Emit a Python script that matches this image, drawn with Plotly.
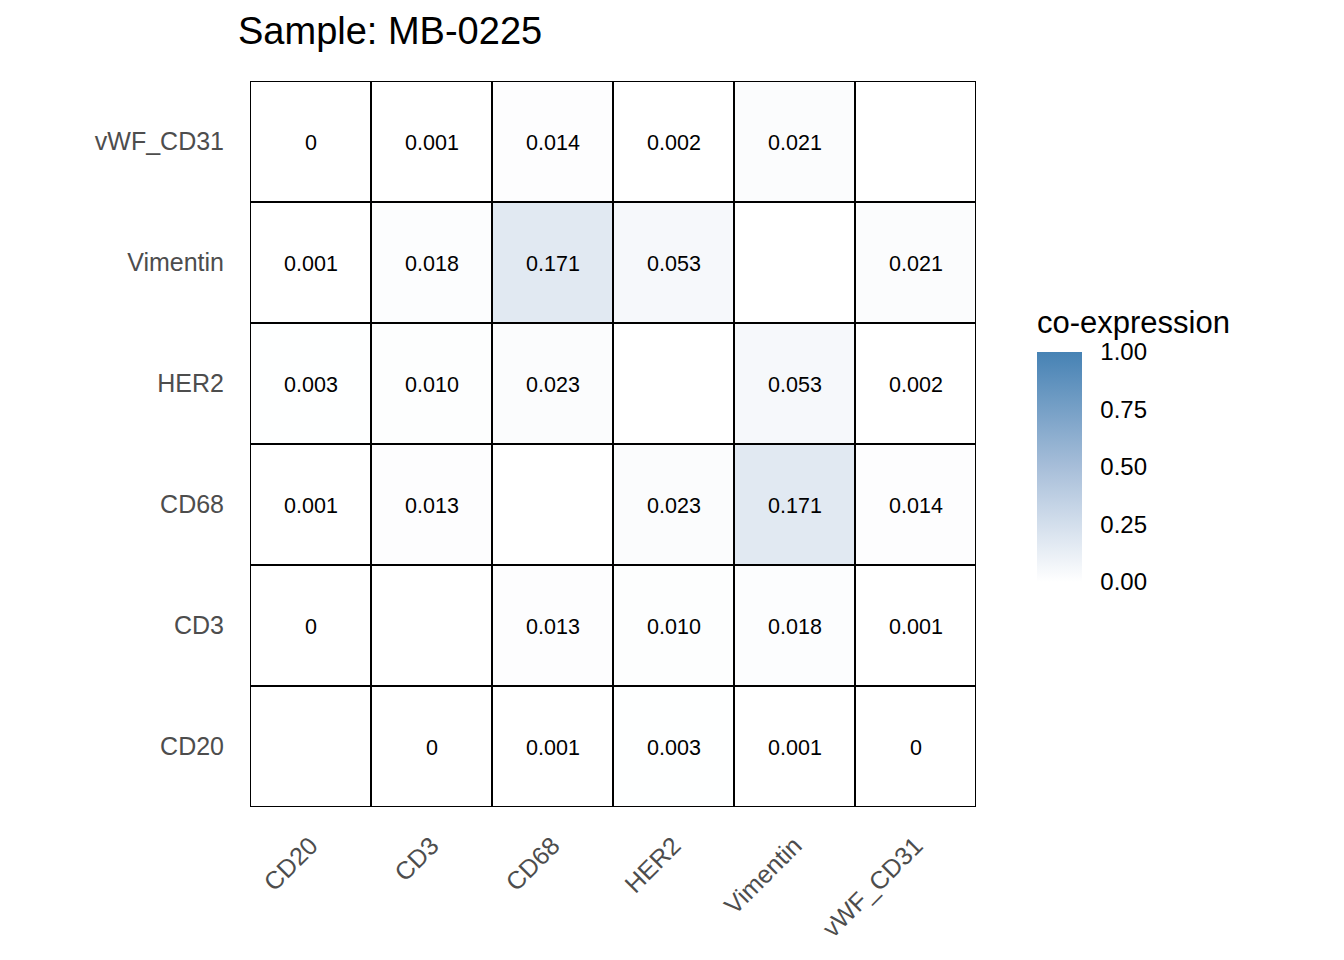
import plotly.graph_objects as go

markers = ["CD20", "CD3", "CD68", "HER2", "Vimentin", "vWF_CD31"]
# co-expression values, rows = y marker (bottom to top), cols = x marker
coexp = [
    [None, 0.000, 0.001, 0.003, 0.001, 0.000],
    [0.000, None, 0.013, 0.010, 0.018, 0.001],
    [0.001, 0.013, None, 0.023, 0.171, 0.014],
    [0.003, 0.010, 0.023, None, 0.053, 0.002],
    [0.001, 0.018, 0.171, 0.053, None, 0.021],
    [0.000, 0.001, 0.014, 0.002, 0.021, None],
]
title_text = "Sample: MB-0225"
legend_title = "co-expression"
cbar_ticks = [0, 0.25, 0.5, 0.75, 1.0]

def fmt(v):
    if v is None:
        return ""
    if v == 0:
        return "0"
    return f"{v:.3f}"

labels = [[fmt(v) for v in row] for row in coexp]
n = len(markers)
idx = list(range(n))

FONT = "Liberation Sans"
OFF = 8  # page body margin
PLOT = 726  # plot area size in px

fig = go.Figure(go.Heatmap(
    x=idx, y=idx, z=coexp, text=labels, texttemplate="%{text}",
    textfont=dict(family=FONT, size=21.5, color="black"),
    colorscale=[[0, "#FFFFFF"], [0.5, "#A7BED9"], [1, "#4682B4"]],
    zmin=0, zmax=1, hoverongaps=False,
    colorbar=dict(
        tickvals=cbar_ticks, ticktext=[f"{t:.2f}" for t in cbar_ticks],
        tickfont=dict(family=FONT, size=24, color="black"),
        ticks="outside", tickcolor="rgba(0,0,0,0)", ticklen=14, tickwidth=1,
        outlinewidth=0, thickness=45, thicknessmode="pixels",
        len=230, lenmode="pixels", x=(1037 - 250) / PLOT, xanchor="left",
        y=(807 - 582) / PLOT, yanchor="bottom", ypad=0, xpad=0,
    ),
))

shapes = []
for k in range(n + 1):
    shapes.append(dict(type="line", xref="x", yref="y", x0=k - 0.5, x1=k - 0.5,
                       y0=-0.5, y1=n - 0.5, line=dict(color="black", width=2)))
    shapes.append(dict(type="line", xref="x", yref="y", y0=k - 0.5, y1=k - 0.5,
                       x0=-0.5, x1=n - 0.5, line=dict(color="black", width=2)))

fig.update_layout(
    width=1344, height=960,
    margin=dict(l=250 - OFF, r=368 + OFF, t=81 - OFF, b=153 + OFF),
    paper_bgcolor="white", plot_bgcolor="white",
    shapes=shapes,
    title=dict(text=title_text, x=(238 - OFF) / 1344, xanchor="left", xref="container",
               y=1 - (31 - OFF) / 960, yanchor="middle",
               font=dict(family=FONT, size=38, color="black")),
    annotations=[dict(text=legend_title, xref="paper", yref="paper",
                      x=(1035 - 250) / PLOT, y=(807 - 322) / PLOT,
                      xanchor="left", yanchor="middle", showarrow=False,
                      font=dict(family=FONT, size=31, color="black"))],
)
fig.update_xaxes(range=[-0.5, n - 0.5], tickvals=idx, ticktext=markers, tickangle=-45,
                 showgrid=False, zeroline=False, showline=False,
                 ticks="outside", ticklen=13, tickcolor="rgba(0,0,0,0)",
                 tickfont=dict(family=FONT, size=25, color="#4D4D4D"))
fig.update_yaxes(range=[-0.5, n - 0.5], tickvals=idx, ticktext=markers,
                 showgrid=False, zeroline=False, showline=False,
                 ticks="outside", ticklen=20, tickcolor="rgba(0,0,0,0)",
                 tickfont=dict(family=FONT, size=25, color="#4D4D4D"))

fig.write_html("out.html")
